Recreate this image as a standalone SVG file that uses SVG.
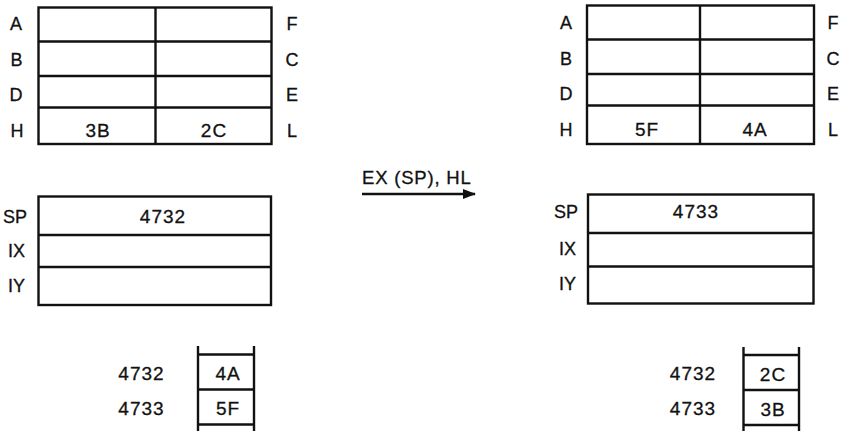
<svg xmlns="http://www.w3.org/2000/svg" width="841" height="431" viewBox="0 0 841 431">
  <style>
    .box { fill: none; stroke: #111; stroke-width: 2.4; }
    .ln { stroke: #111; stroke-width: 2.4; fill: none; }
    text { font-family: "Liberation Sans", Arial, sans-serif; font-size: 18px; fill: #111; stroke: #111; stroke-width: 0.3px; }
    .c { text-anchor: middle; }
    .e { text-anchor: end; }
    .v { font-size: 19px; letter-spacing: 1px; }
  </style>
  <defs>
    <marker id="arrowhead" markerWidth="13" markerHeight="10" refX="12" refY="5" orient="auto" markerUnits="userSpaceOnUse">
      <path d="M0,0 L13,5 L0,10 z" fill="#111"/>
    </marker>
  </defs>
  <rect width="841" height="431" fill="#fff"/>

  <!-- register pairs before the exchange -->
  <g id="regs-before">
    <rect class="box" x="38.5" y="7.5" width="233" height="136.5"/>
    <line class="ln" x1="155.5" y1="7.5" x2="155.5" y2="144"/>
    <line class="ln" x1="38.5" y1="41.5" x2="271.5" y2="41.5"/>
    <line class="ln" x1="38.5" y1="76" x2="271.5" y2="76"/>
    <line class="ln" x1="38.5" y1="107.5" x2="271.5" y2="107.5"/>
    <text class="c" x="16" y="30">A</text>
    <text class="c" x="16.5" y="66">B</text>
    <text class="c" x="16" y="101">D</text>
    <text class="c" x="17" y="137">H</text>
    <text class="c" x="292" y="30">F</text>
    <text class="c" x="292" y="66">C</text>
    <text class="c" x="292" y="101">E</text>
    <text class="c" x="292" y="137">L</text>
    <text class="c v" x="98" y="137">3B</text>
    <text class="c v" x="214" y="137">2C</text>
  </g>

  <!-- 16-bit registers before -->
  <g id="ptr-before">
    <rect class="box" x="38.5" y="196.5" width="232.5" height="108.5"/>
    <line class="ln" x1="38.5" y1="235" x2="271" y2="235"/>
    <line class="ln" x1="38.5" y1="267" x2="271" y2="267"/>
    <text class="e" x="27" y="222.5">SP</text>
    <text class="e" x="25" y="257">IX</text>
    <text class="e" x="25" y="291.5">IY</text>
    <text class="c v" x="163" y="223">4732</text>
  </g>

  <!-- stack memory before -->
  <g id="mem-before">
    <line class="ln" x1="198" y1="346" x2="198" y2="431"/>
    <line class="ln" x1="254" y1="346" x2="254" y2="431"/>
    <line class="ln" x1="198" y1="354.5" x2="254" y2="354.5"/>
    <line class="ln" x1="198" y1="389.5" x2="254" y2="389.5"/>
    <line class="ln" x1="198" y1="424.5" x2="254" y2="424.5"/>
    <text class="c v" x="141.5" y="380">4732</text>
    <text class="c v" x="141.5" y="415">4733</text>
    <text class="c v" x="228" y="380">4A</text>
    <text class="c v" x="228" y="415">5F</text>
  </g>

  <!-- instruction arrow -->
  <g id="connectors">
    <line class="ln" x1="362" y1="194" x2="475" y2="194" stroke-width="2.2" marker-end="url(#arrowhead)"/>
    <text x="362" y="183.5" style="font-size:18.5px;letter-spacing:0.8px">EX (SP), HL</text>
  </g>

  <!-- register pairs after the exchange -->
  <g id="regs-after">
    <rect class="box" x="587" y="5.5" width="227" height="138.5"/>
    <line class="ln" x1="700" y1="5.5" x2="700" y2="144"/>
    <line class="ln" x1="587" y1="39.5" x2="814" y2="39.5"/>
    <line class="ln" x1="587" y1="74" x2="814" y2="74"/>
    <line class="ln" x1="587" y1="105.5" x2="814" y2="105.5"/>
    <text class="c" x="566" y="29">A</text>
    <text class="c" x="566" y="65">B</text>
    <text class="c" x="566" y="100">D</text>
    <text class="c" x="566" y="136">H</text>
    <text class="c" x="833" y="29">F</text>
    <text class="c" x="833" y="65">C</text>
    <text class="c" x="833" y="100">E</text>
    <text class="c" x="833" y="136">L</text>
    <text class="c v" x="647" y="136">5F</text>
    <text class="c v" x="755" y="136">4A</text>
  </g>

  <!-- 16-bit registers after -->
  <g id="ptr-after">
    <rect class="box" x="588" y="194.5" width="225.5" height="109"/>
    <line class="ln" x1="588" y1="233" x2="813.5" y2="233"/>
    <line class="ln" x1="588" y1="266.5" x2="813.5" y2="266.5"/>
    <text class="e" x="578" y="217.5">SP</text>
    <text class="e" x="576" y="255">IX</text>
    <text class="e" x="576" y="290">IY</text>
    <text class="c v" x="696" y="217.5">4733</text>
  </g>

  <!-- stack memory after -->
  <g id="mem-after">
    <line class="ln" x1="743.5" y1="347" x2="743.5" y2="431"/>
    <line class="ln" x1="799" y1="347" x2="799" y2="431"/>
    <line class="ln" x1="743.5" y1="355" x2="799" y2="355"/>
    <line class="ln" x1="743.5" y1="390" x2="799" y2="390"/>
    <line class="ln" x1="743.5" y1="425" x2="799" y2="425"/>
    <text class="c v" x="693" y="380">4732</text>
    <text class="c v" x="693" y="415">4733</text>
    <text class="c v" x="773" y="381">2C</text>
    <text class="c v" x="773" y="416">3B</text>
  </g>
</svg>
